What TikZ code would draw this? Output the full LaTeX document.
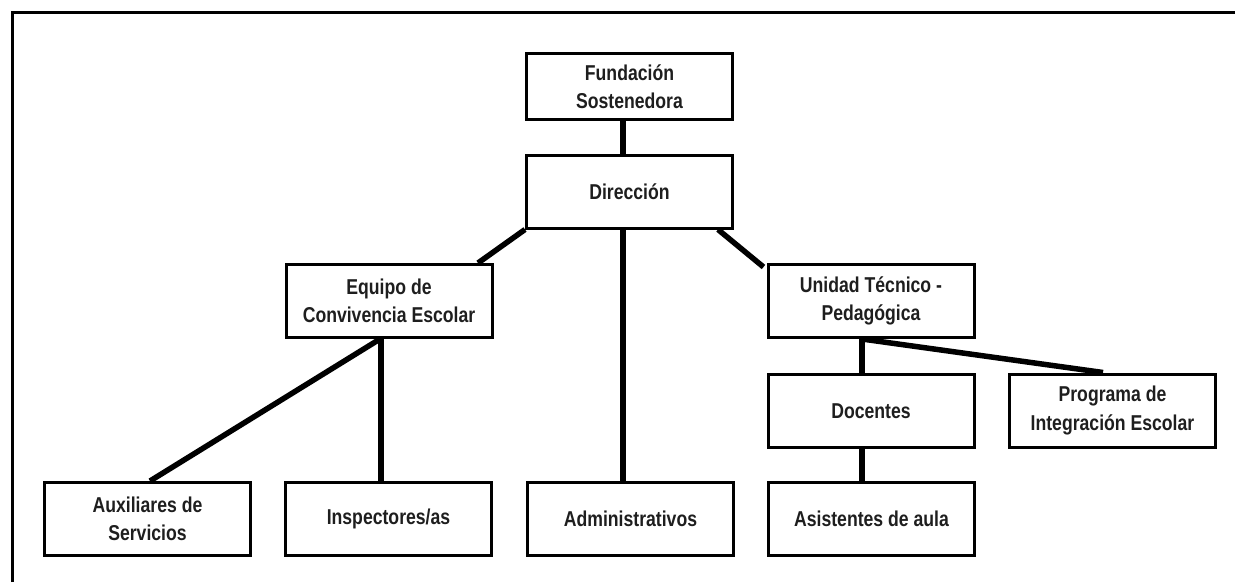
\documentclass[tikz,border=0pt]{standalone}
\usepackage{fontspec}
\setmainfont{Liberation Sans}[FakeStretch=0.82]
\definecolor{textc}{HTML}{1E1E1E}
\begin{document}
\begin{tikzpicture}[x=1pt,y=-1pt,
  box/.style={draw=black, line width=3pt, minimum width=206pt, minimum height=73pt,
    inner sep=0pt, align=center, text=textc,
    font=\fontsize{21.5}{28.5}\selectfont\bfseries},
  link/.style={line width=5.5pt, line cap=butt},
  frameline/.style={line width=3pt}]
\useasboundingbox (0,0) rectangle (1235,582);
\draw[frameline] (12,582) -- (12,12.5) -- (1235,12.5);

\node[box, minimum height=66pt] (fund) at (629.5,86.5) {Fundación\\Sostenedora};
\node[box] (dir) at (629.5,191.5) {Dirección};
\node[box] (equipo) at (389,301) {Equipo de\\Convivencia Escolar};
\node[box] (unidad) at (871,301) {Unidad Técnico -\\Pedagógica};
\node[box] (docentes) at (871,411) {Docentes};
\node[box] (programa) at (1112.5,410.5) {Programa de\\Integración Escolar};
\node[box] (aux) at (147.5,519) {Auxiliares de\\Servicios};
\node[box] (insp) at (388.5,519) {Inspectores/as};
\node[box] (admin) at (630.5,519) {Administrativos};
\node[box] (asist) at (871.5,519) {Asistentes de aula};

\draw[link] ([xshift=-6.5pt]fund.south) -- ([xshift=-6.5pt]dir.north);
\draw[link] ([xshift=-6.5pt]dir.south) -- ([xshift=-7.5pt]admin.north);
\draw[link] (dir.south west) -- ([xshift=89pt]equipo.north);
\draw[link] ([xshift=-16pt]dir.south east) -- ([shift={(-3pt,-4pt)}]unidad.north west);
\draw[link] ([xshift=-9pt]equipo.south) -- ([xshift=2.5pt]aux.north);
\draw[link] ([xshift=-8pt]equipo.south) -- ([xshift=-7.5pt]insp.north);
\draw[link] ([xshift=-9pt]unidad.south) -- ([xshift=-9pt]docentes.north);
\draw[link] ([xshift=-9pt]unidad.south) -- ([xshift=-9.5pt]programa.north);
\draw[link] ([xshift=-9pt]docentes.south) -- ([xshift=-9.5pt]asist.north);
\end{tikzpicture}
\end{document}
